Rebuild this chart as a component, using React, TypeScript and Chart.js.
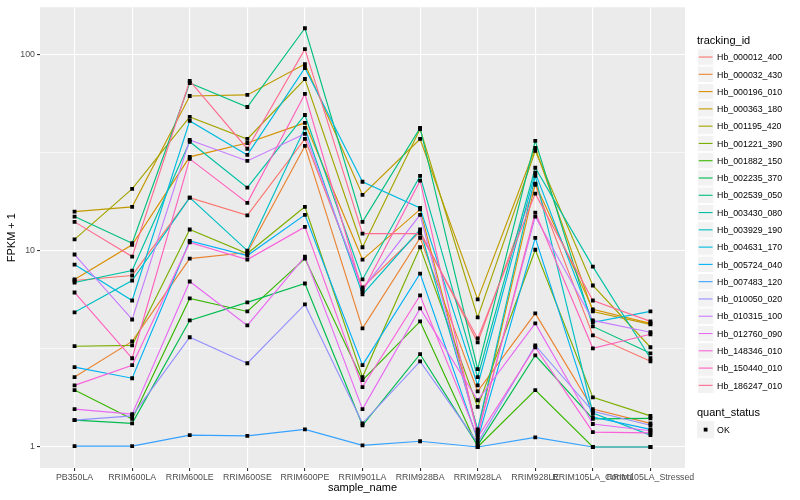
import React, { useEffect, useRef } from "react";
import { Chart, registerables } from "chart.js";

Chart.register(...registerables);

const FONT = "'Liberation Sans', Arial, Helvetica, sans-serif";

const categories = [
  "PB350LA", "RRIM600LA", "RRIM600LE", "RRIM600SE", "RRIM600PE", "RRIM901LA",
  "RRIM928BA", "RRIM928LA", "RRIM928LE", "RRIM105LA_Control", "RRIM105LA_Stressed",
];

const seriesNames = [
  "Hb_000012_400", "Hb_000032_430", "Hb_000196_010", "Hb_000363_180", "Hb_001195_420",
  "Hb_001221_390", "Hb_001882_150", "Hb_002235_370", "Hb_002539_050", "Hb_003430_080",
  "Hb_003929_190", "Hb_004631_170", "Hb_005724_040", "Hb_007483_120", "Hb_010050_020",
  "Hb_010315_100", "Hb_012760_090", "Hb_148346_010", "Hb_150440_010", "Hb_186247_010",
];

const seriesColors = [
  "#F8766D", "#EA8331", "#D89000", "#C09B00", "#A3A500", "#7CAE00", "#39B600", "#00BB4E",
  "#00BF7D", "#00C1A3", "#00BFC4", "#00BAE0", "#00B0F6", "#35A2FF", "#9590FF", "#C77CFF",
  "#E76BF3", "#FA62DB", "#FF62BC", "#FF6C91",
];

const hb000012_400 = [7.04, 7.47, 18.6, 15.1, 37.0, 6.49, 12.5, 3.41, 21.6, 3.70, 2.73];
const hb000032_430 = [2.27, 3.45, 9.10, 9.77, 34.1, 4.02, 11.6, 1.92, 4.79, 1.56, 1.32];
const hb000196_010 = [7.13, 10.7, 30.0, 35.3, 44.7, 9.00, 16.2, 1.21, 21.9, 5.02, 4.26];
const hb000363_180 = [15.8, 16.7, 61.2, 62.0, 89.0, 19.2, 37.0, 5.64, 33.3, 4.90, 4.21];
const hb001195_420 = [11.4, 20.6, 47.9, 37.0, 74.7, 10.4, 41.6, 4.57, 32.2, 6.64, 3.22];
const hb001221_390 = [3.26, 3.29, 12.8, 9.66, 16.7, 2.27, 10.4, 1.60, 10.1, 1.79, 1.44];
const hb001882_150 = [1.95, 1.39, 5.71, 4.90, 9.10, 2.19, 4.36, 1.00, 1.95, 1.00, 1.00];
const hb002235_370 = [1.37, 1.32, 4.41, 5.45, 6.80, 1.29, 2.97, 1.02, 2.93, 1.39, 1.40];
const hb002539_050 = [14.9, 10.9, 71.3, 53.8, 135.5, 14.0, 42.1, 2.49, 36.2, 4.11, 3.00];
const hb003430_080 = [6.88, 7.91, 35.8, 20.9, 49.0, 7.13, 24.0, 2.27, 26.4, 8.29, 2.83];
const hb003929_190 = [4.85, 7.04, 18.6, 10.0, 42.1, 5.98, 12.8, 1.23, 24.0, 1.49, 1.15];
const hb004631_170 = [8.49, 5.57, 45.7, 30.7, 85.0, 22.4, 16.5, 2.06, 24.9, 4.31, 4.90];
const hb005724_040 = [2.55, 2.24, 11.2, 9.43, 15.2, 2.61, 7.64, 1.09, 11.6, 1.42, 1.23];
const hb007483_120 = [1.01, 1.01, 1.15, 1.14, 1.23, 1.02, 1.07, 1.00, 1.12, 1.00, 1.00];
const hb010050_020 = [1.37, 1.44, 3.62, 2.67, 5.32, 1.32, 2.73, 1.05, 3.29, 1.52, 1.29];
const hb010315_100 = [9.55, 4.46, 36.6, 28.6, 39.3, 6.34, 15.2, 1.18, 14.9, 4.41, 3.84];
const hb012760_090 = [1.56, 1.47, 6.96, 4.16, 9.32, 1.56, 5.08, 1.73, 4.26, 1.31, 1.21];
const hb148346_010 = [2.06, 2.61, 11.0, 9.00, 13.2, 2.02, 5.91, 1.12, 3.22, 1.19, 1.18];
const hb150440_010 = [6.12, 2.83, 29.3, 17.5, 62.7, 6.19, 22.7, 1.15, 15.6, 3.18, 3.75];
const hb186247_010 = [14.0, 9.32, 73.0, 33.0, 106, 12.2, 12.2, 3.57, 19.5, 5.57, 4.36];

const seriesValues = [
  hb000012_400, hb000032_430, hb000196_010, hb000363_180, hb001195_420,
  hb001221_390, hb001882_150, hb002235_370, hb002539_050, hb003430_080,
  hb003929_190, hb004631_170, hb005724_040, hb007483_120, hb010050_020,
  hb010315_100, hb012760_090, hb148346_010, hb150440_010, hb186247_010,
];

const yMajorTicks = [1, 10, 100];
const yMinorTicks = [3.1623, 31.623];
const yMin = 0.782;
const yMax = 173.2;

const quantStatus = ["OK"];

const isMajor = (v: number) => yMajorTicks.some((m) => Math.abs(m - v) < 1e-6);

const panelBg = {
  id: "panelBg",
  beforeDraw(chart: any) {
    const { ctx, chartArea } = chart;
    ctx.save();
    ctx.fillStyle = "#FFFFFF";
    ctx.fillRect(0, 0, chart.width, chart.height);
    ctx.fillStyle = "#EBEBEB";
    ctx.fillRect(chartArea.left, chartArea.top, chartArea.right - chartArea.left, chartArea.bottom - chartArea.top);
    ctx.restore();
  },
};

const ggLegend = {
  id: "ggLegend",
  afterDraw(chart: any) {
    const { ctx, chartArea } = chart;
    const x0 = chartArea.right + 12;
    const key = 17.28;
    ctx.save();
    ctx.fillStyle = "#000000";
    ctx.textAlign = "left";
    ctx.textBaseline = "alphabetic";
    ctx.font = `11px ${FONT}`;
    ctx.fillText("tracking_id", x0, 44);
    const firstTop = 48.4;
    ctx.font = `8.8px ${FONT}`;
    seriesNames.forEach((name, i) => {
      const top = firstTop + i * key;
      ctx.fillStyle = "#F2F2F2";
      ctx.fillRect(x0, top, key, key);
      ctx.strokeStyle = "#FFFFFF";
      ctx.lineWidth = 1;
      ctx.strokeRect(x0 + 0.5, top + 0.5, key - 1, key - 1);
      ctx.strokeStyle = seriesColors[i];
      ctx.lineWidth = 1.1;
      ctx.beginPath();
      ctx.moveTo(x0 + 1.7, top + key / 2);
      ctx.lineTo(x0 + key - 1.7, top + key / 2);
      ctx.stroke();
      ctx.fillStyle = "#000000";
      ctx.fillText(name, x0 + key + 2.8, top + key / 2 + 3.2);
    });
    ctx.font = `11px ${FONT}`;
    ctx.fillText("quant_status", x0, 416);
    const qTop = 421;
    quantStatus.forEach((s, i) => {
      const top = qTop + i * key;
      ctx.fillStyle = "#F2F2F2";
      ctx.fillRect(x0, top, key, key);
      ctx.fillStyle = "#000000";
      ctx.fillRect(x0 + key / 2 - 1.9, top + key / 2 - 1.9, 3.8, 3.8);
      ctx.font = `8.8px ${FONT}`;
      ctx.fillText(s, x0 + key + 2.8, top + key / 2 + 3.2);
    });
    ctx.restore();
  },
};

export default function App() {
  const canvasRef = useRef<HTMLCanvasElement | null>(null);

  useEffect(() => {
    if (!canvasRef.current) return;
    const lineSets = seriesValues.map((vals, idx) => ({
      label: seriesNames[idx],
      data: categories.map((_, i) => ({ x: i, y: vals[i] })),
      borderColor: seriesColors[idx],
      backgroundColor: seriesColors[idx],
      borderWidth: 1.15,
      pointRadius: 0,
      tension: 0,
      fill: false,
      order: seriesValues.length - idx,
    }));
    const pointData: { x: number; y: number }[] = [];
    seriesValues.forEach((vals) => categories.forEach((_, i) => pointData.push({ x: i, y: vals[i] })));
    const pointSet = {
      label: "quant_status: OK",
      data: pointData,
      showLine: false,
      borderWidth: 0,
      pointRadius: 2.7,
      pointStyle: "rect",
      pointBackgroundColor: "#000000",
      pointBorderWidth: 0,
      backgroundColor: "#000000",
      borderColor: "#000000",
      order: -1,
    };

    const chart = new Chart(canvasRef.current, {
      type: "line",
      data: { datasets: [pointSet as any, ...lineSets] },
      options: {
        animation: false,
        responsive: false,
        events: [],
        layout: { padding: { top: 5, right: 115, bottom: 0, left: 0 } },
        plugins: { legend: { display: false }, tooltip: { enabled: false } },
        scales: {
          x: {
            type: "linear",
            min: -0.6,
            max: categories.length - 1 + 0.6,
            afterBuildTicks: (s: any) => {
              s.ticks = categories.map((_, i) => ({ value: i }));
            },
            afterFit: (s: any) => {
              s.height = 32;
            },
            ticks: {
              autoSkip: false,
              maxRotation: 0,
              minRotation: 0,
              padding: 1,
              color: "#4D4D4D",
              font: { family: FONT, size: 8.8 },
              callback: (v: any) => categories[Math.round(Number(v))] ?? "",
            },
            grid: { color: "#FFFFFF", lineWidth: 1.1, tickLength: 3, tickColor: "#333333", drawTicks: true },
            border: { display: false },
            title: {
              display: true,
              text: "sample_name",
              color: "#000000",
              font: { family: FONT, size: 11 },
              padding: { top: 0, bottom: 5 },
            },
          },
          y: {
            type: "logarithmic",
            min: yMin,
            max: yMax,
            afterBuildTicks: (s: any) => {
              s.ticks = [...yMajorTicks, ...yMinorTicks].sort((a, b) => a - b).map((v) => ({ value: v }));
            },
            afterFit: (s: any) => {
              s.width = 40;
            },
            ticks: {
              autoSkip: false,
              padding: 2,
              color: "#4D4D4D",
              font: { family: FONT, size: 8.8 },
              callback: (v: any) => (isMajor(Number(v)) ? String(Math.round(Number(v))) : ""),
            },
            grid: {
              color: "#FFFFFF",
              lineWidth: (c: any) => (c.tick && isMajor(c.tick.value) ? 1.1 : 0.55),
              tickLength: 3,
              tickColor: (c: any) => (c.tick && isMajor(c.tick.value) ? "#333333" : "rgba(0,0,0,0)"),
              drawTicks: true,
            },
            border: { display: false },
            title: {
              display: true,
              text: "FPKM + 1",
              color: "#000000",
              font: { family: FONT, size: 11 },
              padding: { top: 5, bottom: 0 },
            },
          },
        },
      } as any,
      plugins: [panelBg, ggLegend],
    });
    return () => chart.destroy();
  }, []);

  return (
    <div style={{ position: "fixed", left: 0, top: 0, width: 800, height: 500, background: "#FFFFFF" }}>
      <canvas ref={canvasRef} width={800} height={500} style={{ width: 800, height: 500, display: "block" }} />
    </div>
  );
}
